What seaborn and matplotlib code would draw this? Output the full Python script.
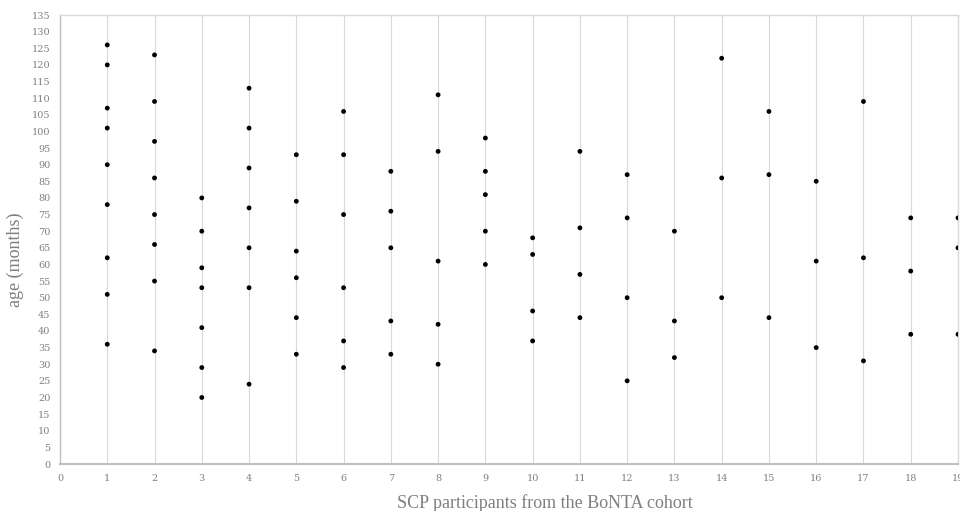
import matplotlib
matplotlib.use('Agg')
import matplotlib.pyplot as plt
import seaborn as sns
import pandas as pd
import numpy as np

# ages (months) per SCP participant
p01 = [126, 120, 107, 101, 90, 78, 62, 51, 36]
p02 = [123, 109, 97, 86, 75, 66, 55, 34]
p03 = [80, 70, 59, 53, 41, 29, 20]
p04 = [113, 101, 89, 77, 65, 53, 24]
p05 = [93, 79, 64, 56, 44, 33]
p06 = [106, 93, 75, 53, 37, 29]
p07 = [88, 76, 65, 43, 33]
p08 = [111, 94, 61, 42, 30]
p09 = [98, 88, 81, 70, 60]
p10 = [68, 63, 46, 37]
p11 = [94, 71, 57, 44]
p12 = [87, 74, 50, 25]
p13 = [70, 43, 32]
p14 = [122, 86, 50]
p15 = [106, 87, 44]
p16 = [85, 61, 35]
p17 = [109, 62, 31]
p18 = [74, 58, 39]
p19 = [74, 65, 39]

participants = [p01, p02, p03, p04, p05, p06, p07, p08, p09, p10,
                p11, p12, p13, p14, p15, p16, p17, p18, p19]

x_ticks = list(range(0, 20))
y_ticks = list(range(0, 140, 5))

GREY = '#7f7f7f'
GRID = '#d9d9d9'

rows = []
for i, ages in enumerate(participants):
    for a in ages:
        rows.append({'participant': i + 1, 'age': a})
df = pd.DataFrame(rows)

sns.set_style('white')
plt.rcParams['font.family'] = ['Liberation Serif', 'DejaVu Serif']

fig = plt.figure(figsize=(9.6, 5.11), dpi=100)
ax = fig.add_axes([60 / 960, 47 / 511, 898 / 960, 449 / 511])

sns.scatterplot(data=df, x='participant', y='age', color='black', s=12,
                edgecolor='none', ax=ax, zorder=3)

ax.set_xlim(0, 19)
ax.set_ylim(0, 135)
ax.set_xticks(x_ticks)
ax.set_yticks(y_ticks)
ax.xaxis.grid(True, color=GRID, linewidth=0.8)
ax.yaxis.grid(False)
for sp in ax.spines.values():
    sp.set_color(GRID)
    sp.set_linewidth(1.0)
ax.spines['bottom'].set_color('#bfbfbf')
ax.spines['bottom'].set_linewidth(1.5)
ax.spines['left'].set_color('#bfbfbf')

ax.tick_params(axis='both', length=0, labelcolor=GREY, pad=7)
for lab in ax.get_xticklabels() + ax.get_yticklabels():
    lab.set_family(['DejaVu Serif'])
    lab.set_fontsize(7)
ax.set_xlabel('SCP participants from the BoNTA cohort', fontsize=13, color=GREY, va='center')
ax.set_ylabel('age (months)', fontsize=13, color=GREY)
ax.xaxis.set_label_coords(0.54, -0.087)
ax.yaxis.set_label_coords(-0.040, 0.454)

fig.savefig('out.png', dpi=100)
